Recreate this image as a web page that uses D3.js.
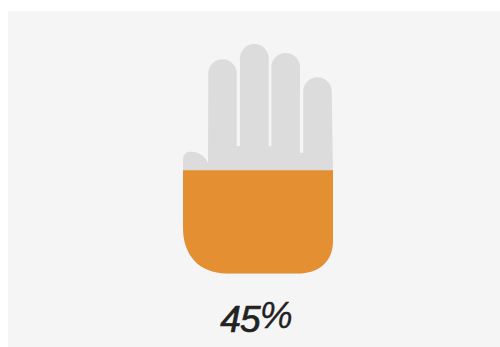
<!DOCTYPE html>
<html>
<head>
<meta charset="utf-8">
<script src="https://cdn.jsdelivr.net/npm/d3@7"></script>
<style>
  html, body { margin: 0; background: #fff; }
  svg { display: block; }
</style>
</head>
<body>
<svg id="chart" width="500" height="347"></svg>
<script>
// Share of the hand that is filled
const percentValue = [45];
const valueLabel = ["45", "%"];

// Finger outlines: horizontal span in hand units (0-150), tip height and gap base in percent of hand height
const fingerNames = ["index", "middle", "ring", "little"];
const fingerLeft = [25.3, 57, 88.4, 120.2];
const fingerRight = [53.7, 85.7, 117, 148.7];
const fingerTip = [93.3, 100, 96.1, 85.5];
const gapBase = [55.6, 55.4, 52.6];

const svg = d3.select("#chart");
const width = 500, height = 347;

const x = d3.scaleLinear().domain([0, 150]).range([183, 333]);
const y = d3.scaleLinear().domain([0, 100]).range([273.5, 44]);

svg.append("rect")
  .attr("x", 8).attr("y", 11)
  .attr("width", width - 8).attr("height", height - 11)
  .attr("fill", "#f5f5f5");

// Builds the silhouette clockwise, starting at the lower end of the thumb side
function handPath() {
  const p = d3.path();
  p.moveTo(x(0), y(35));
  // thumb
  p.lineTo(x(0), y(49.5));
  p.bezierCurveTo(x(0), y(52), x(3), y(53.1), x(8), y(53.1));
  p.bezierCurveTo(x(16), y(53.1), x(23), y(51), x(25), y(48));
  fingerNames.forEach((name, i) => {
    const left = x(fingerLeft[i]), right = x(fingerRight[i]);
    const r = (right - left) / 2;
    p.lineTo(left, y(fingerTip[i]) + r);
    p.arc(left + r, y(fingerTip[i]) + r, r, Math.PI, 2 * Math.PI);
    if (i < gapBase.length) {
      p.lineTo(right, y(gapBase[i]));
      p.lineTo(x(fingerLeft[i + 1]), y(gapBase[i]));
    }
  });
  // right edge and rounded wrist
  p.lineTo(x(150), y(44));
  p.lineTo(x(150), y(14.5));
  p.bezierCurveTo(x(150), y(5), x(136), y(0), x(114), y(0));
  p.lineTo(x(44), y(0));
  p.bezierCurveTo(x(16), y(0), x(0), y(8), x(0), y(20));
  p.closePath();
  return p.toString();
}

const outline = handPath();

svg.append("clipPath").attr("id", "fill-level")
  .append("rect")
  .attr("x", x(0) - 2)
  .attr("width", x(150) - x(0) + 4)
  .attr("y", y(percentValue[0]))
  .attr("height", y(0) - y(percentValue[0]) + 2);

svg.append("path").attr("d", outline).attr("fill", "#dcdcdc");
svg.append("path").attr("d", outline).attr("fill", "#e38f32")
  .attr("clip-path", "url(#fill-level)");

// Value label: heavier digits with a lighter raised percent sign
const label = svg.append("text")
  .attr("x", 256).attr("y", 332)
  .attr("text-anchor", "middle")
  .attr("font-family", "'Liberation Sans', Arial, sans-serif")
  .attr("font-style", "italic")
  .attr("font-size", 37)
  .attr("letter-spacing", -0.8)
  .attr("fill", "#222");

label.append("tspan").text(valueLabel[0])
  .attr("stroke", "#222").attr("stroke-width", 0.7);
label.append("tspan").text(valueLabel[1]).attr("dy", -4)
  .attr("stroke", "#222").attr("stroke-width", 0.3);
</script>
</body>
</html>
